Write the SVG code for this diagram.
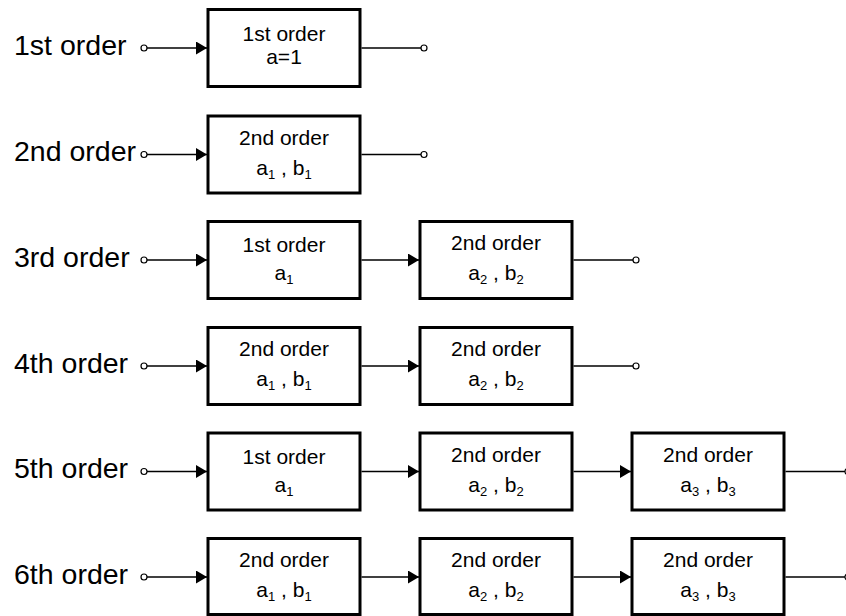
<svg xmlns="http://www.w3.org/2000/svg" width="846" height="616" viewBox="0 0 846 616">
<defs>
<style>
.box{fill:#fff;stroke:#000;stroke-width:3}
.ln{fill:none;stroke:#000;stroke-width:1.3}
.term{fill:#fff;stroke:#000;stroke-width:1.2}
.lbl{font-family:"Liberation Sans",Arial,sans-serif;font-size:28.5px;fill:#000}
.bt{font-family:"Liberation Sans",Arial,sans-serif;font-size:21px;fill:#000;text-anchor:middle}
.sub{font-size:13px}
</style>
<marker id="arr" viewBox="0 0 11 13" refX="11" refY="6.5" markerWidth="11" markerHeight="13" markerUnits="userSpaceOnUse" orient="auto">
<path d="M0,0 L11,6.5 L0,13 Z" fill="#000"/>
</marker>
</defs>
<rect width="846" height="616" fill="#fff"/>

<g id="labels">
<text class="lbl" x="14" y="55">1st order</text>
<text class="lbl" x="14" y="161">2nd order</text>
<text class="lbl" x="14" y="267">3rd order</text>
<text class="lbl" x="14" y="373">4th order</text>
<text class="lbl" x="14" y="478">5th order</text>
<text class="lbl" x="14" y="584">6th order</text>
</g>

<g id="connectors">
<path class="ln" d="M147,48 H207" marker-end="url(#arr)"/>
<path class="ln" d="M361.5,48 H421"/>
<path class="ln" d="M147,154.5 H207" marker-end="url(#arr)"/>
<path class="ln" d="M361.5,154.5 H421"/>
<path class="ln" d="M147,260 H207" marker-end="url(#arr)"/>
<path class="ln" d="M361.5,260 H419" marker-end="url(#arr)"/>
<path class="ln" d="M573.5,260 H633"/>
<path class="ln" d="M147,366 H207" marker-end="url(#arr)"/>
<path class="ln" d="M361.5,366 H419" marker-end="url(#arr)"/>
<path class="ln" d="M573.5,366 H633"/>
<path class="ln" d="M147,471.5 H207" marker-end="url(#arr)"/>
<path class="ln" d="M361.5,471.5 H419" marker-end="url(#arr)"/>
<path class="ln" d="M573.5,471.5 H631" marker-end="url(#arr)"/>
<path class="ln" d="M785.5,471.5 H845"/>
<path class="ln" d="M147,577 H207" marker-end="url(#arr)"/>
<path class="ln" d="M361.5,577 H419" marker-end="url(#arr)"/>
<path class="ln" d="M573.5,577 H631" marker-end="url(#arr)"/>
<path class="ln" d="M785.5,577 H845"/>
</g>

<g id="terminals">
<circle class="term" cx="144" cy="48" r="3"/>
<circle class="term" cx="424" cy="48" r="3"/>
<circle class="term" cx="144" cy="154.5" r="3"/>
<circle class="term" cx="424" cy="154.5" r="3"/>
<circle class="term" cx="144" cy="260" r="3"/>
<circle class="term" cx="636" cy="260" r="3"/>
<circle class="term" cx="144" cy="366" r="3"/>
<circle class="term" cx="636" cy="366" r="3"/>
<circle class="term" cx="144" cy="471.5" r="3"/>
<circle class="term" cx="848" cy="471.5" r="3"/>
<circle class="term" cx="144" cy="577" r="3"/>
<circle class="term" cx="848" cy="577" r="3"/>
</g>

<g id="r1b1">
<rect class="box" x="208" y="9.5" width="152" height="77"/>
<text class="bt" x="284" y="40.5">1st order</text>
<text class="bt" x="284" y="64">a=1</text>
</g>

<g id="r2b1">
<rect class="box" x="208" y="116" width="152" height="77"/>
<text class="bt" x="284" y="144.5">2nd order</text>
<text class="bt" x="284" y="174.5">a<tspan class="sub" dy="4">1</tspan><tspan dy="-4"> , b</tspan><tspan class="sub" dy="4">1</tspan></text>
</g>

<g id="r3b1">
<rect class="box" x="208" y="221.5" width="152" height="77"/>
<text class="bt" x="284" y="252">1st order</text>
<text class="bt" x="284" y="280">a<tspan class="sub" dy="4">1</tspan></text>
</g>
<g id="r3b2">
<rect class="box" x="420" y="221.5" width="152" height="77"/>
<text class="bt" x="496" y="250">2nd order</text>
<text class="bt" x="496" y="280">a<tspan class="sub" dy="4">2</tspan><tspan dy="-4"> , b</tspan><tspan class="sub" dy="4">2</tspan></text>
</g>

<g id="r4b1">
<rect class="box" x="208" y="327.5" width="152" height="77"/>
<text class="bt" x="284" y="356">2nd order</text>
<text class="bt" x="284" y="386">a<tspan class="sub" dy="4">1</tspan><tspan dy="-4"> , b</tspan><tspan class="sub" dy="4">1</tspan></text>
</g>
<g id="r4b2">
<rect class="box" x="420" y="327.5" width="152" height="77"/>
<text class="bt" x="496" y="356">2nd order</text>
<text class="bt" x="496" y="386">a<tspan class="sub" dy="4">2</tspan><tspan dy="-4"> , b</tspan><tspan class="sub" dy="4">2</tspan></text>
</g>

<g id="r5b1">
<rect class="box" x="208" y="433" width="152" height="77"/>
<text class="bt" x="284" y="463.5">1st order</text>
<text class="bt" x="284" y="491.5">a<tspan class="sub" dy="4">1</tspan></text>
</g>
<g id="r5b2">
<rect class="box" x="420" y="433" width="152" height="77"/>
<text class="bt" x="496" y="461.5">2nd order</text>
<text class="bt" x="496" y="491.5">a<tspan class="sub" dy="4">2</tspan><tspan dy="-4"> , b</tspan><tspan class="sub" dy="4">2</tspan></text>
</g>
<g id="r5b3">
<rect class="box" x="632" y="433" width="152" height="77"/>
<text class="bt" x="708" y="461.5">2nd order</text>
<text class="bt" x="708" y="491.5">a<tspan class="sub" dy="4">3</tspan><tspan dy="-4"> , b</tspan><tspan class="sub" dy="4">3</tspan></text>
</g>

<g id="r6b1">
<rect class="box" x="208" y="538.5" width="152" height="76"/>
<text class="bt" x="284" y="567">2nd order</text>
<text class="bt" x="284" y="597">a<tspan class="sub" dy="4">1</tspan><tspan dy="-4"> , b</tspan><tspan class="sub" dy="4">1</tspan></text>
</g>
<g id="r6b2">
<rect class="box" x="420" y="538.5" width="152" height="76"/>
<text class="bt" x="496" y="567">2nd order</text>
<text class="bt" x="496" y="597">a<tspan class="sub" dy="4">2</tspan><tspan dy="-4"> , b</tspan><tspan class="sub" dy="4">2</tspan></text>
</g>
<g id="r6b3">
<rect class="box" x="632" y="538.5" width="152" height="76"/>
<text class="bt" x="708" y="567">2nd order</text>
<text class="bt" x="708" y="597">a<tspan class="sub" dy="4">3</tspan><tspan dy="-4"> , b</tspan><tspan class="sub" dy="4">3</tspan></text>
</g>
</svg>
